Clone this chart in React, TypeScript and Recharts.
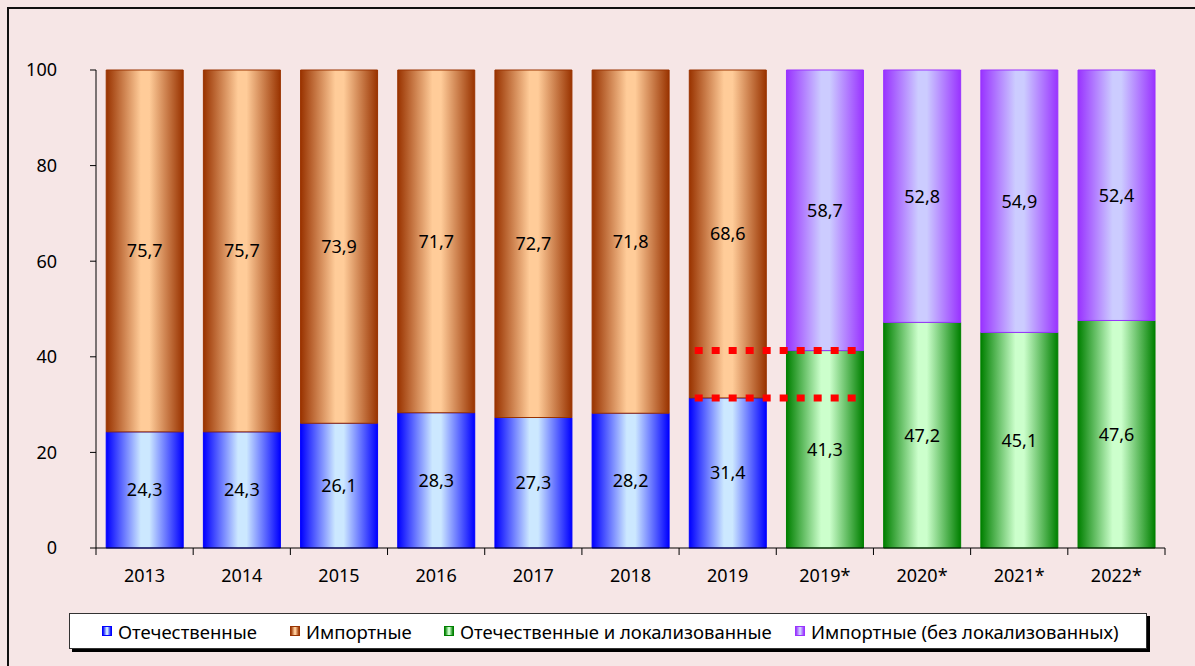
import { BarChart, Bar, XAxis, YAxis, LabelList, ReferenceLine } from 'recharts'

const years = ['2013', '2014', '2015', '2016', '2017', '2018', '2019', '2019*', '2020*', '2021*', '2022*']
const domestic = [24.3, 24.3, 26.1, 28.3, 27.3, 28.2, 31.4, null, null, null, null]
const imported = [75.7, 75.7, 73.9, 71.7, 72.7, 71.8, 68.6, null, null, null, null]
const domesticLocal = [null, null, null, null, null, null, null, 41.3, 47.2, 45.1, 47.6]
const importedNoLocal = [null, null, null, null, null, null, null, 58.7, 52.8, 54.9, 52.4]
const yTicks = [0, 20, 40, 60, 80, 100]

const SERIES = [
  { key: 'domestic', name: 'Отечественные', values: domestic, dark: '#0000FF', light: '#CCE8FF' },
  { key: 'imported', name: 'Импортные', values: imported, dark: '#993300', light: '#FFCC99' },
  { key: 'domesticLocal', name: 'Отечественные и локализованные', values: domesticLocal, dark: '#008000', light: '#CCFFCC' },
  { key: 'importedNoLocal', name: 'Импортные (без локализованных)', values: importedNoLocal, dark: '#9933FF', light: '#CCCCFF' },
]

const data = years.map((year, i) => {
  const row: Record<string, string | number | null> = { year }
  SERIES.forEach((s) => {
    row[s.key] = s.values[i]
  })
  return row
})

// dotted bridge between 2019 and 2019*
const bridges = [domesticLocal[7] as number, domestic[6] as number]

const FONT = '"Noto Sans", sans-serif'
const LEGEND_X = [32, 220, 374, 725]

function fmt(v: any) {
  return typeof v === 'number' ? v.toFixed(1).replace('.', ',') : ''
}

function XTick(props: any) {
  const { x, y, payload, index } = props
  const half = payload?.offset || 48.6
  const last = index === years.length - 1
  return (
    <g>
      <line x1={x - half} y1={y} x2={x - half} y2={y + 7} stroke="#000" strokeWidth={1} />
      {last && <line x1={x + half} y1={y} x2={x + half} y2={y + 7} stroke="#000" strokeWidth={1} />}
      <text x={x} y={y + 34} textAnchor="middle" fontSize={18} fontFamily={FONT} fill="#000">
        {payload.value}
      </text>
    </g>
  )
}

function DottedBridge(props: any) {
  const { x1, y1, x2, y2 } = props
  if (x1 == null || y1 == null) return null
  return (
    <line
      x1={x1 - 33}
      y1={y1}
      x2={x2 + 33}
      y2={y2}
      stroke="#FF0000"
      strokeWidth={7}
      strokeDasharray="8 9"
    />
  )
}

export default function App() {
  return (
    <div
      style={{
        position: 'absolute',
        left: 0,
        top: 0,
        width: 1195,
        height: 666,
        background: '#F6E6E6',
        overflow: 'hidden',
        fontFamily: FONT,
      }}
    >
      <div
        style={{
          position: 'absolute',
          left: 7,
          top: 7,
          width: 1200,
          height: 670,
          borderTop: '2px solid #111',
          borderLeft: '2px solid #111',
        }}
      />
      <div style={{ position: 'absolute', left: 0, top: 0 }}>
        <BarChart
          width={1195}
          height={666}
          data={data}
          margin={{ top: 70, right: 30, bottom: 88, left: 0 }}
          barCategoryGap="10.5%"
        >
          <defs>
            {SERIES.map((s) => (
              <linearGradient key={s.key} id={`grad-${s.key}`} x1="0" y1="0" x2="1" y2="0">
                <stop offset="0%" stopColor={s.dark} />
                <stop offset="45%" stopColor={s.light} />
                <stop offset="56%" stopColor={s.light} />
                <stop offset="100%" stopColor={s.dark} />
              </linearGradient>
            ))}
          </defs>
          <XAxis
            dataKey="year"
            height={30}
            axisLine={{ stroke: '#000' }}
            tickLine={false}
            tickSize={0}
            tickMargin={0}
            tick={<XTick />}
            interval={0}
          />
          <YAxis
            width={96}
            domain={[0, 100]}
            ticks={yTicks}
            axisLine={{ stroke: '#000' }}
            tickLine={{ stroke: '#000' }}
            tickSize={6}
            tickMargin={33}
            tick={{ fontSize: 18, fontFamily: FONT, fill: '#000' }}
          />
          {SERIES.map((s) => (
            <Bar
              key={s.key}
              dataKey={s.key}
              name={s.name}
              stackId="a"
              fill={`url(#grad-${s.key})`}
              stroke={s.dark}
              strokeWidth={1}
              isAnimationActive={false}
            >
              <LabelList
                dataKey={s.key}
                position="center"
                formatter={fmt}
                style={{ fontSize: 18, fontFamily: FONT, fill: '#000' }}
              />
            </Bar>
          ))}
          {bridges.map((v) => (
            <ReferenceLine
              key={v}
              segment={[
                { x: '2019', y: v },
                { x: '2019*', y: v },
              ]}
              shape={<DottedBridge />}
            />
          ))}
        </BarChart>
      </div>
      <div
        style={{
          position: 'absolute',
          left: 69,
          top: 613,
          width: 1078,
          height: 36,
          boxSizing: 'border-box',
          background: '#fff',
          border: '1px solid #333',
          boxShadow: '3px 3px 0 #000',
        }}
      >
        {SERIES.map((s, i) => (
          <div
            key={s.key}
            style={{
              position: 'absolute',
              left: LEGEND_X[i],
              top: 0,
              height: 34,
              display: 'flex',
              alignItems: 'center',
              whiteSpace: 'nowrap',
              fontSize: 18.5,
              color: '#000',
            }}
          >
            <span
              style={{
                width: 10,
                height: 10,
                boxSizing: 'border-box',
                border: `1px solid ${s.dark}`,
                background: `linear-gradient(to right, ${s.dark}, ${s.light} 45%, ${s.light} 56%, ${s.dark})`,
                marginRight: 6,
              }}
            />
            <span>{s.name}</span>
          </div>
        ))}
      </div>
    </div>
  )
}
